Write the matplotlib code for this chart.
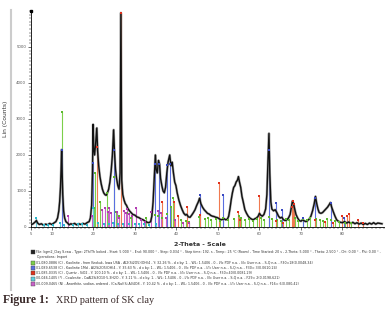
import numpy as np
import matplotlib.pyplot as plt

two_theta = [5.0, 5.5, 6.0, 6.3, 6.6, 7.0, 7.5, 8.0, 8.5, 9.0, 9.5, 10.0, 10.5, 11.0, 11.4, 11.7,
             11.9, 12.1, 12.25, 12.38, 12.5, 12.65, 12.85, 13.1, 13.4, 13.8, 14.2, 14.6, 15.0, 15.5,
             16.0, 16.5, 17.0, 17.5, 18.0, 18.5, 19.0, 19.3, 19.6, 19.8, 19.95, 20.1, 20.3, 20.55,
             20.85, 21.05, 21.3, 21.6, 21.9, 22.2, 22.5, 22.8, 23.1, 23.4, 23.7, 24.0, 24.3, 24.6,
             24.9, 25.1, 25.35, 25.6, 25.9, 26.2, 26.45, 26.65, 26.85, 27.1, 27.4, 27.7, 28.0, 28.3,
             28.7, 29.1, 29.5, 30.0, 30.5, 31.0, 31.5, 32.0, 32.5, 33.0, 33.4, 33.8, 34.1, 34.4,
             34.7, 34.95, 35.15, 35.4, 35.7, 35.95, 36.2, 36.5, 36.8, 37.1, 37.4, 37.7, 38.0, 38.4,
             38.7, 39.0, 39.3, 39.6, 39.9, 40.2, 40.6, 41.0, 41.4, 41.8, 42.2, 42.5, 42.9, 43.3,
             43.7, 44.1, 44.5, 44.9, 45.3, 45.6, 45.9, 46.3, 46.7, 47.1, 47.5, 47.9, 48.3, 48.7,
             49.1, 49.5, 49.9, 50.3, 50.7, 51.1, 51.5, 51.9, 52.3, 52.6, 52.9, 53.2, 53.5, 53.8,
             54.1, 54.4, 54.7, 54.95, 55.2, 55.5, 55.8, 56.1, 56.5, 56.9, 57.3, 57.7, 58.1, 58.5,
             58.9, 59.3, 59.7, 60.0, 60.3, 60.7, 61.1, 61.5, 61.8, 62.05, 62.3, 62.5, 62.75, 63.0,
             63.4, 63.8, 64.2, 64.6, 65.0, 65.4, 65.8, 66.2, 66.6, 67.0, 67.4, 67.7, 67.95, 68.2,
             68.5, 68.8, 69.2, 69.6, 70.0, 70.4, 70.8, 71.2, 71.6, 72.0, 72.4, 72.8, 73.2, 73.5,
             73.8, 74.1, 74.4, 74.8, 75.2, 75.6, 76.0, 76.4, 76.8, 77.1, 77.4, 77.8, 78.2, 78.6,
             79.0, 79.5, 80.0, 80.5, 81.0, 81.5, 82.0, 82.5, 83.0, 83.5, 84.0, 84.5, 85.0, 85.5,
             86.0, 86.5, 87.0, 87.5, 88.0, 88.5, 89.0, 89.5]
counts = [60, 90, 140, 180, 110, 70, 90, 50, 80, 60, 100, 70, 110, 150, 250, 450,
          700, 1100, 1600, 2150, 1500, 900, 450, 250, 150, 110, 60, 90, 70, 100,
          60, 90, 70, 100, 80, 120, 150, 250, 600, 1500, 2850, 2200, 2000, 2300,
          2750, 2100, 1700, 1400, 1200, 1050, 950, 900, 880, 950, 1050, 1250, 1550, 2000,
          2700, 2100, 1600, 1350, 1150, 1050, 1500, 5950, 1300, 900, 750, 650, 600, 520,
          450, 400, 350, 330, 280, 260, 220, 200, 160, 130, 120, 150, 300, 700,
          1400, 2000, 1600, 1500, 1850, 1750, 1350, 1150, 1000, 950, 1100, 1500, 1800, 2000,
          1700, 1800, 1500, 1250, 1150, 950, 750, 600, 480, 380, 330, 350, 280, 270,
          330, 400, 480, 600, 700, 800, 650, 550, 480, 430, 380, 360, 320, 300,
          290, 270, 260, 230, 200, 210, 230, 200, 220, 300, 500, 750, 950, 1100,
          1150, 1250, 1300, 1400, 1250, 1100, 850, 700, 480, 380, 300, 250, 220, 200,
          230, 250, 300, 380, 330, 300, 350, 500, 900, 1800, 2600, 1500, 700, 500,
          450, 480, 400, 300, 250, 270, 200, 180, 200, 250, 350, 550, 720, 650,
          500, 350, 250, 180, 160, 200, 170, 150, 180, 220, 300, 450, 650, 850,
          650, 500, 400, 380, 400, 450, 500, 550, 620, 680, 550, 420, 300, 200,
          160, 130, 120, 150, 110, 140, 100, 130, 90, 120, 80, 110, 70, 100,
          70, 110, 80, 120, 80, 110, 100, 90]

# Fases de referencia (posición 2-Theta, intensidad)
kao1_pos = [12.35, 20.1, 20.4, 21.5, 23.2, 24.9, 25.5, 26.1, 28.1, 29.0, 32.8, 34.9, 35.6, 36.6,
            37.8, 38.6, 39.2, 41.2, 42.4, 43.0, 45.5, 46.9, 47.5, 48.3, 49.5, 50.5, 51.3, 52.5,
            54.0, 55.0, 55.5, 56.5, 57.5, 58.5, 59.5, 60.3, 61.2, 62.3, 63.0, 64.2, 65.1, 66.3,
            67.2, 68.5, 69.4, 70.6, 71.5, 72.3, 73.6, 74.5, 75.4, 76.3, 77.2, 78.1, 79.2, 80.5, 82.0]
kao1_int = [3200, 520, 1500, 700, 940, 1390, 420, 300, 390, 250, 250, 330, 300, 250,
            350, 560, 800, 200, 180, 150, 280, 220, 250, 200, 230, 180, 250, 200,
            220, 300, 250, 200, 230, 180, 220, 250, 200, 280, 230, 200, 180, 220,
            200, 250, 180, 230, 200, 250, 220, 200, 180, 230, 200, 180, 150, 120, 100]
kao2_pos = [12.4, 20.0, 24.9, 34.95, 35.9, 37.7, 38.5, 45.7, 51.2, 62.3, 63.9, 65.4, 70.4,
            73.5, 77.2, 80.4]
kao2_int = [2140, 1770, 2140, 1750, 1750, 1720, 1750, 900, 900, 2140, 670, 470, 250,
            800, 680, 250]
qtz_pos = [20.85, 26.65, 36.55, 39.5, 40.3, 42.45, 45.8, 50.15, 54.9, 55.35, 59.95, 64.0, 65.8,
           67.75, 68.15, 68.3, 73.5, 75.7, 77.7, 79.9, 81.2, 81.5, 83.8, 84.9]
qtz_int = [2220, 5950, 690, 690, 300, 550, 330, 1220, 420, 200, 860, 180, 120,
           560, 720, 650, 200, 150, 120, 310, 310, 350, 190, 100]
cow_pos = [6.3, 8.1, 9.2, 10.3, 12.0, 12.9, 15.1, 16.4, 17.3, 18.5, 19.9, 21.1, 22.6, 23.9,
           24.7, 26.0, 27.2, 28.6, 30.1, 31.0, 32.2, 33.5, 35.2]
cow_int = [250, 60, 60, 50, 110, 60, 60, 80, 70, 60, 530, 100, 80, 90,
           100, 80, 90, 80, 90, 70, 80, 60, 90]
ano_pos = [13.85, 19.75, 22.0, 22.7, 23.6, 23.9, 24.3, 25.6, 26.3, 27.3, 27.8, 28.0, 28.5,
           29.4, 30.2, 31.4, 32.5, 33.8, 35.5, 36.4, 37.6, 39.6, 41.5, 43.0]
ano_int = [300, 300, 480, 520, 420, 520, 400, 420, 250, 450, 400, 500, 350,
           300, 520, 200, 150, 420, 450, 380, 250, 200, 120, 100]

phases = [
    (kao1_pos, kao1_int, '#7ccf4a', '#5cb82e'),
    (kao2_pos, kao2_int, '#5a6ee0', '#3848c0'),
    (qtz_pos, qtz_int, '#f07a50', '#e0301c'),
    (cow_pos, cow_int, '#5fd0e0', '#2bb8cc'),
    (ano_pos, ano_int, '#c860c8', '#b03cb0'),
]

legend_lines = [
    "File: kgm2_Clay S.raw - Type: 2Th/Th locked - Start: 5.000 \u00b0 - End: 90.000 \u00b0 - Step: 0.034 \u00b0 - Step time: 192. s - Temp.: 25 \u00b0C (Room) - Time Started: 20 s - 2-Theta: 5.000 \u00b0 - Theta: 2.500 \u00b0 - Chi: 0.00 \u00b0 - Phi: 0.00 \u00b0 -",
    "Operations: Import",
    "01-080-0886 (C) - Kaolinite - from Keokuk, Iowa USA - Al2(Si2O5)(OH)4 - Y: 32.26 % - d x by: 1. - WL: 1.5406 - 0 - I/Ic PDF n.a. - I/Ic User n.a. - S-Q n.a. - F30=18(0.0048,34)",
    "01-089-6538 (C) - Kaolinite 1Md - Al2Si2O5(OH)4 - Y: 35.63 % - d x by: 1. - WL: 1.5406 - 0 - I/Ic PDF n.a. - I/Ic User n.a. - S-Q n.a. - F30= 3(0.0610,24)",
    "01-085-0335 (C) - Quartz - SiO2 - Y: 100.10 % - d x by: 1. - WL: 1.5406 - 0 - I/Ic PDF n.a. - I/Ic User n.a. - S-Q n.a. - F30=40(0.0081,29)",
    "00-046-1405 (*) - Cowlesite - CaAl2Si3O10\u00b75.3H2O - Y: 3.11 % - d x by: 1. - WL: 1.5406 - 0 - I/Ic PDF n.a. - I/Ic User n.a. - S-Q n.a. - F29= 2(0.0198,621)",
    "00-009-0465 (N) - Anorthite, sodian, ordered - (Ca,Na)(Si,Al)4O8 - Y: 10.42 % - d x by: 1. - WL: 1.5406 - 0 - I/Ic PDF n.a. - I/Ic User n.a. - S-Q n.a. - F16= 6(0.080,42)",
]
legend_icons = ['#222222', None, '#7ccf4a', '#5a6ee0', '#e0301c', '#5fd0e0', '#c860c8']

fig = plt.figure(figsize=(3.91, 3.15), dpi=100)
ax = fig.add_axes([31/391, 1 - 227/315, 353/391, 216/315])

# sticks de las fases
for pos, inten, col, mcol in phases:
    ax.vlines(pos, 0, inten, colors=col, linewidth=0.8, zorder=2)
    ax.scatter(pos, inten, marker='s', s=2.5, color=mcol, linewidths=0, zorder=4, clip_on=False)

ax.plot(two_theta, counts, color='#777777', linewidth=1.8, alpha=0.6, zorder=3)
ax.plot(two_theta, counts, color='#111111', linewidth=1.0, zorder=3)

ax.set_xlim(5, 90)
ax.set_ylim(0, 6000)
ax.set_xticks([5, 10, 20, 30, 40, 50, 60, 70, 80])
ax.set_xticks(np.arange(5, 91, 1), minor=True)
ax.set_yticks(np.arange(0, 6000, 1000))
ax.set_yticks(np.arange(0, 6001, 100), minor=True)
ax.tick_params(labelsize=2.8, labelcolor='#555555', length=2, width=0.4, pad=1.5)
ax.tick_params(which='minor', length=1.2, width=0.3)
for s in ['top', 'right']:
    ax.spines[s].set_visible(False)
for s in ['left', 'bottom']:
    ax.spines[s].set_linewidth(0.6)
ax.plot([5], [6000], marker='s', markersize=1.5, color='black', clip_on=False)

ax.set_ylabel('Lin (Counts)', fontsize=4.3, labelpad=6, color='#333333')

# textos bajo el gráfico
fig.text(200/391, 1 - 244/315, '2-Theta - Scale', fontsize=4.5, fontweight='bold',
         ha='center', va='center', color='#333333')
for i, (line, icon) in enumerate(zip(legend_lines, legend_icons)):
    y = 1 - (252 + i * 5.3) / 315
    x0 = 36/391 if icon is not None else 37/391
    fig.text(x0, y, line, fontsize=2.32, ha='left', va='center', color='#333333')
    if icon is not None:
        fig.patches.append(plt.Rectangle((31/391, y - 2/315), 4/391, 4/315, transform=fig.transFigure,
                                         facecolor=icon, edgecolor='#444444', linewidth=0.3))

# línea gris del borde de la página escaneada
fig.add_artist(plt.Line2D([11/391, 11/391], [1 - 10/315, 1 - 290/315], color='#cccccc', linewidth=1.5))

fig.text(3/391, 1 - 300/315, 'Figure 1:', fontsize=8.5, fontweight='bold', family='Liberation Serif',
         ha='left', va='center', color='#3a2a2a')
fig.text(56/391, 1 - 300/315, 'XRD pattern of SK clay', fontsize=7.3, family='Liberation Serif',
         ha='left', va='center', color='#3a2a2a')

fig.savefig('out.png', dpi=100)
